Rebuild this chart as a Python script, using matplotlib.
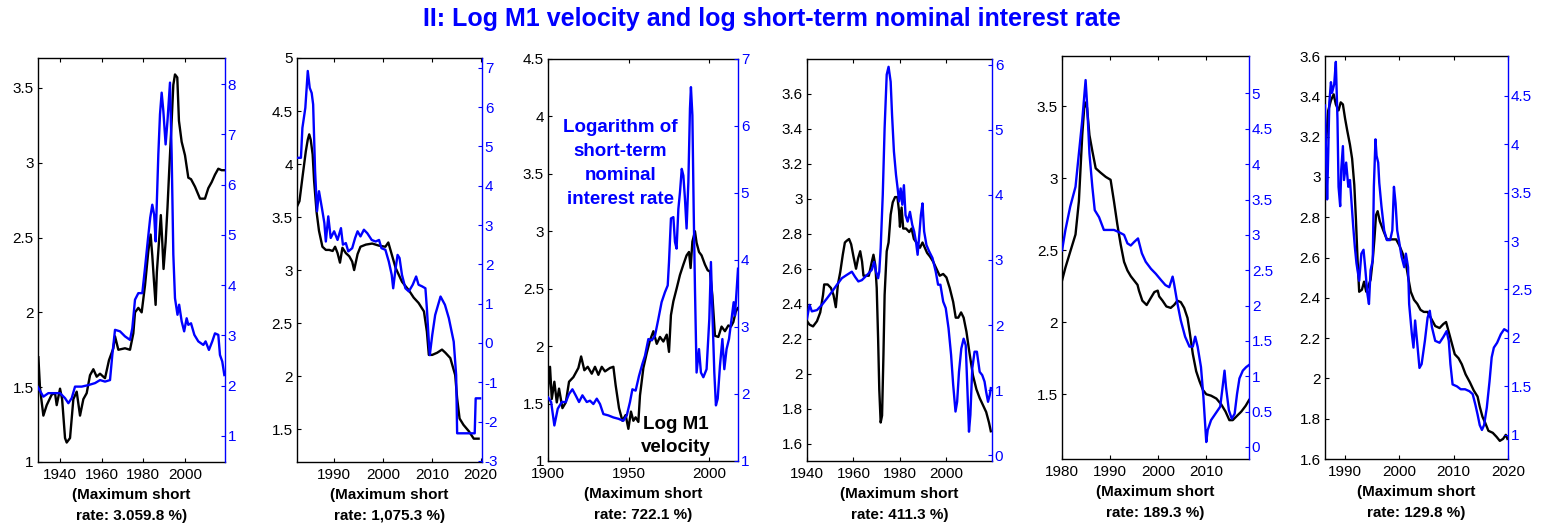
import matplotlib
matplotlib.use('Agg')
import matplotlib.pyplot as plt
from matplotlib.ticker import FuncFormatter

plt.rcParams['font.family'] = ['Liberation Sans', 'DejaVu Sans']
plt.rcParams['axes.unicode_minus'] = False

BLUE = '#0000ff'

# ---- panel 1 ----
p1_vel_year = [1929.6, 1930.4, 1932, 1933.6, 1936, 1937.6, 1938.4, 1940, 1941, 1942.4, 1943.2, 1944.8,
               1946.4, 1948, 1949.6, 1951.2, 1952.8, 1954.4, 1956, 1957.6, 1959.2, 1961.6, 1963.5,
               1965.6, 1966.4, 1968, 1971.2, 1973.6, 1975.2, 1976, 1977.6, 1979.2, 1980.8, 1982.4,
               1983.5, 1984.3, 1985.1, 1985.9, 1986.5, 1987.5, 1988.4, 1989.1, 1989.7, 1990.7,
               1991.6, 1992.4, 1993.6, 1994.4, 1995.2, 1996.3, 1997.1, 1998.4, 2000, 2001.6, 2002.9,
               2004.8, 2007.2, 2009.6, 2011.2, 2012.8, 2014.4, 2016, 2017.6, 2018.9]
p1_vel = [1.70, 1.49, 1.31, 1.38, 1.45, 1.46, 1.38, 1.49, 1.42, 1.16, 1.13, 1.16,
          1.42, 1.47, 1.31, 1.42, 1.46, 1.58, 1.62, 1.57, 1.59, 1.56, 1.68,
          1.76, 1.84, 1.75, 1.76, 1.75, 1.86, 2.00, 2.03, 2.00, 2.18, 2.41,
          2.52, 2.38, 2.21, 2.05, 2.27, 2.47, 2.65, 2.47, 2.29, 2.47,
          2.70, 2.94, 3.28, 3.52, 3.59, 3.57, 3.28, 3.14, 3.05, 2.90, 2.89,
          2.84, 2.76, 2.76, 2.83, 2.87, 2.92, 2.96, 2.95, 2.95]
p1_rate_year = [1929.2, 1932, 1934.4, 1936.8, 1940, 1942.4, 1944, 1945.6, 1947.2, 1950.4, 1953.6,
                1956.8, 1959.2, 1961.6, 1964, 1965.1, 1966.4, 1968.8, 1971.2, 1973.6, 1974.7,
                1976, 1977.6, 1979.5, 1980.8, 1982.1, 1983.3, 1984.3, 1985.2, 1985.9, 1986.5,
                1987.2, 1988, 1988.8, 1989.6, 1990.7, 1991.6, 1992.8, 1993.6, 1994.4, 1995.2,
                1996.4, 1997.2, 1998.4, 1999.6, 2000.8, 2001.6, 2002.9, 2004.5, 2006.4, 2008.8,
                2009.9, 2011.5, 2013.1, 2014.4, 2016, 2016.8, 2017.9, 2018.9]
p1_rate = [1.98, 1.78, 1.85, 1.85, 1.85, 1.75, 1.65, 1.75, 1.98, 1.98, 2.01,
           2.05, 2.11, 2.08, 2.11, 2.61, 3.11, 3.08, 2.98, 2.91, 3.14,
           3.71, 3.84, 3.84, 4.34, 4.87, 5.34, 5.60, 5.40, 4.87, 5.67,
           6.60, 7.40, 7.83, 7.47, 6.80, 7.27, 8.03, 6.60, 4.61, 3.74,
           3.41, 3.61, 3.28, 3.08, 3.34, 3.21, 3.24, 3.01, 2.88, 2.81,
           2.88, 2.71, 2.88, 3.04, 3.01, 2.61, 2.48, 2.21]

# ---- panel 2 ----
p2_vel_year = [1982.3, 1982.9, 1983.5, 1984.2, 1984.6, 1984.9, 1985.2, 1985.6, 1985.9, 1986.4, 1986.9,
               1987.6, 1988.3, 1989, 1989.7, 1990.2, 1990.7, 1991.2, 1991.7, 1992.4, 1993.1, 1993.7,
               1994.1, 1994.8, 1995.4, 1996.5, 1997.8, 1999.2, 2000.5, 2001.1, 2001.6, 2002.6,
               2003.9, 2005.3, 2006.3, 2007.3, 2008.4, 2009, 2009.4, 2010.1, 2011.1, 2012.1, 2012.8,
               2013.8, 2014.8, 2015.2, 2015.7, 2016.5, 2017.6, 2018.6, 2019.6]
p2_vel = [3.59, 3.65, 3.87, 4.12, 4.23, 4.28, 4.23, 4.09, 3.84, 3.55, 3.37,
          3.22, 3.19, 3.19, 3.18, 3.22, 3.16, 3.07, 3.21, 3.16, 3.13, 3.08,
          3.00, 3.15, 3.22, 3.24, 3.25, 3.23, 3.22, 3.26, 3.18, 3.02,
          2.89, 2.81, 2.74, 2.69, 2.61, 2.42, 2.20, 2.20, 2.22, 2.25, 2.22,
          2.17, 2.01, 1.79, 1.60, 1.54, 1.48, 1.41, 1.41]
p2_rate_year = [1982.3, 1983.2, 1983.5, 1984.1, 1984.6, 1985, 1985.4, 1985.7, 1986.1, 1986.5, 1986.9,
                1987.5, 1988, 1988.3, 1988.8, 1989.3, 1990, 1990.7, 1991.4, 1991.8, 1992.4, 1992.9,
                1993.7, 1994.3, 1994.8, 1995.4, 1996.1, 1996.8, 1997.7, 1998.5, 1999.2, 1999.7,
                2000.5, 2001.2, 2001.8, 2002.1, 2002.6, 2003, 2003.4, 2003.9, 2004.6, 2005.3,
                2006.1, 2006.8, 2007.3, 2008, 2008.7, 2009, 2009.4, 2009.6, 2010.1, 2010.7,
                2011.8, 2012.7, 2013.5, 2014.5, 2015, 2015.2, 2016.9, 2018.8, 2019, 2019.9]
p2_rate = [4.71, 4.71, 5.47, 5.98, 6.92, 6.49, 6.36, 6.07, 4.37, 3.35, 3.86,
           3.43, 3.05, 2.58, 3.22, 2.67, 2.84, 2.62, 2.92, 2.50, 2.54, 2.33,
           2.41, 2.67, 2.84, 2.71, 2.88, 2.79, 2.62, 2.58, 2.62, 2.41,
           2.37, 2.07, 1.73, 1.39, 1.90, 2.24, 2.16, 1.73, 1.39, 1.31,
           1.48, 1.69, 1.48, 1.44, 1.39, 0.88, 0.03, -0.31, 0.20, 0.71,
           1.18, 0.97, 0.63, 0.03, -0.82, -2.30, -2.30, -2.30, -1.41, -1.41]

# ---- panel 3 ----
p3_vel_year = [1900, 1901.2, 1902.3, 1903.9, 1905.4, 1906.8, 1908.9, 1911, 1913, 1915.7, 1918.8,
               1920.5, 1922.5, 1924.6, 1927.1, 1929.1, 1931.2, 1933.3, 1935.3, 1938.4, 1940.5,
               1941.9, 1944, 1946.1, 1948.1, 1949.8, 1951.4, 1952.9, 1954.3, 1956, 1957, 1959.1,
               1961.2, 1963.2, 1965.3, 1967.4, 1969.4, 1971.5, 1973.6, 1975, 1976.2, 1977.7,
               1979.7, 1981.8, 1983.9, 1985.9, 1987.4, 1988.4, 1989.5, 1991.1, 1992.1, 1993.6,
               1995.2, 1997.3, 1999, 2000.4, 2001.9, 2003.5, 2005.6, 2007.6, 2009.7, 2011.8,
               2013.4, 2014.9, 2016.4, 2017.6]
p3_vel = [1.63, 1.82, 1.54, 1.69, 1.51, 1.63, 1.46, 1.51, 1.69, 1.73, 1.81,
          1.91, 1.79, 1.82, 1.76, 1.82, 1.75, 1.82, 1.78, 1.81, 1.82,
          1.66, 1.46, 1.35, 1.40, 1.28, 1.43, 1.35, 1.38, 1.34, 1.57, 1.81,
          1.94, 2.05, 2.13, 2.02, 2.08, 2.04, 2.10, 1.95, 2.27, 2.39,
          2.50, 2.62, 2.71, 2.79, 2.82, 2.68, 2.91, 3.00, 2.90, 2.82,
          2.79, 2.71, 2.66, 2.65, 2.44, 2.09, 2.08, 2.17, 2.13, 2.18,
          2.17, 2.21, 2.30, 2.33]
p3_rate_year = [1900, 1901.9, 1903.9, 1906, 1908.5, 1911, 1913, 1915.1, 1917.1, 1919.2, 1921.3,
                1924, 1926, 1928.1, 1930.2, 1932.2, 1934.3, 1937.4, 1940.5, 1943.6, 1946.7,
                1948.8, 1950.8, 1952.3, 1954.3, 1956.4, 1958.5, 1960.1, 1962.2, 1964.3, 1966.3,
                1968.4, 1970.4, 1972.5, 1974.2, 1975, 1976.2, 1977.7, 1978.7, 1979.7, 1980.8,
                1981.8, 1982.9, 1983.9, 1984.9, 1985.9, 1987, 1988, 1988.6, 1989.5, 1990.3,
                1991.1, 1992.1, 1993.6, 1994.8, 1996.3, 1998.3, 2000, 2001, 2002.1, 2003.1,
                2004.1, 2005.2, 2006.6, 2008.1, 2009.3, 2010.7, 2012.2, 2013.8, 2015.1, 2015.9,
                2017, 2017.8]
p3_rate = [1.95, 1.88, 1.53, 1.78, 1.88, 1.88, 2.00, 2.07, 1.98, 1.88, 1.98,
           1.88, 1.90, 1.85, 1.93, 1.85, 1.70, 1.68, 1.65, 1.63, 1.60,
           1.68, 1.88, 2.07, 2.05, 2.27, 2.45, 2.57, 2.82, 2.80, 2.87,
           3.12, 3.37, 3.52, 3.62, 3.97, 4.62, 4.64, 4.27, 4.17, 4.76,
           5.01, 5.36, 5.26, 4.91, 4.47, 5.16, 6.26, 6.58, 6.16, 4.76,
           3.57, 2.32, 2.67, 2.32, 2.25, 2.37, 3.12, 3.97, 3.07, 2.32,
           1.83, 1.93, 2.42, 2.82, 2.37, 2.67, 2.82, 3.12, 3.37, 3.17,
           3.57, 3.87]

# ---- panel 4 ----
p4_vel_year = [1940, 1941.1, 1942.6, 1944.3, 1945.7, 1946.9, 1947.4, 1948.9, 1950.3, 1951.4, 1952.4,
               1953.3, 1954.3, 1955.4, 1956.3, 1957.1, 1958.1, 1959, 1960, 1961.1, 1962, 1962.9,
               1963.7, 1964.3, 1965.4, 1966.6, 1967.9, 1968.6, 1969.4, 1970, 1970.6, 1971.1,
               1971.7, 1972.3, 1972.9, 1973.4, 1974.3, 1975.1, 1976, 1976.9, 1977.9, 1978.9,
               1979.6, 1980, 1980.7, 1981.4, 1982.6, 1984, 1985, 1986, 1987.1, 1988.6, 1989.7,
               1990.7, 1991.7, 1992.9, 1994.3, 1995.7, 1997.1, 1998.6, 2000, 2001.4, 2002.9,
               2004, 2005.1, 2006.3, 2007.4, 2008.6, 2010, 2011.4, 2012.9, 2014.3, 2015.7,
               2017.1, 2018.3, 2019.1]
p4_vel = [2.30, 2.28, 2.27, 2.30, 2.35, 2.45, 2.51, 2.51, 2.49, 2.45, 2.38,
          2.51, 2.58, 2.68, 2.75, 2.76, 2.77, 2.74, 2.67, 2.60, 2.66, 2.70,
          2.64, 2.56, 2.56, 2.56, 2.64, 2.68, 2.62, 2.49, 2.20, 1.91,
          1.72, 1.76, 2.11, 2.45, 2.70, 2.75, 2.91, 2.98, 3.01, 3.01,
          2.93, 2.84, 2.95, 2.83, 2.83, 2.81, 2.83, 2.77, 2.75, 2.72, 2.75,
          2.72, 2.69, 2.67, 2.64, 2.60, 2.56, 2.57, 2.55, 2.49, 2.41,
          2.32, 2.32, 2.35, 2.32, 2.24, 2.11, 1.99, 1.91, 1.86, 1.82,
          1.78, 1.72, 1.67]
p4_rate_year = [1940, 1941.1, 1942.1, 1944.3, 1946.4, 1948.6, 1950.7, 1952.9, 1955, 1957.1, 1959.3,
                1960.7, 1962.1, 1963.6, 1965, 1966.4, 1967.9, 1968.9, 1969.7, 1970.6, 1971.1,
                1971.7, 1972.6, 1973.4, 1974.3, 1975.1, 1976, 1976.6, 1977.4, 1978.3, 1979,
                1979.6, 1980.3, 1981, 1981.7, 1982.4, 1983.3, 1984.3, 1985.3, 1986.1, 1986.9,
                1987.6, 1988.3, 1989, 1989.7, 1990.4, 1991.4, 1992.6, 1994, 1995.4, 1996.4,
                1997.4, 1998.6, 1999.7, 2000.9, 2002, 2002.9, 2003.9, 2004.6, 2005.4, 2006.4,
                2007.4, 2008.3, 2009, 2009.7, 2010.3, 2011.1, 2012.1, 2013.1, 2014.3, 2015.4,
                2016.4, 2017.1, 2017.9, 2018.6, 2019.1]
p4_rate = [2.10, 2.31, 2.21, 2.23, 2.31, 2.41, 2.51, 2.62, 2.72, 2.77, 2.82,
           2.74, 2.67, 2.69, 2.74, 2.79, 2.85, 2.97, 2.82, 2.72, 2.82,
           3.18, 4.00, 5.03, 5.85, 5.97, 5.74, 5.23, 4.67, 4.31, 4.10,
           3.90, 4.10, 3.85, 4.15, 3.69, 3.59, 3.74, 3.54, 3.44, 3.28,
           3.08, 3.38, 3.69, 3.87, 3.44, 3.23, 3.13, 3.03, 2.82, 2.62,
           2.62, 2.36, 2.26, 1.95, 1.54, 1.08, 0.67, 0.82, 1.28, 1.64,
           1.79, 1.69, 1.03, 0.36, 0.62, 1.33, 1.59, 1.59, 1.28, 1.23,
           1.13, 0.97, 0.82, 0.92, 1.03]

# ---- panel 5 ----
p5_vel_year = [1980, 1980.7, 1981.7, 1982.8, 1983.5, 1984.2, 1984.7, 1985.2, 1985.7, 1986.3, 1987,
               1988, 1989.1, 1990.1, 1990.8, 1991.5, 1992.2, 1992.9, 1993.6, 1994.3, 1995, 1995.7,
               1996, 1996.7, 1997.6, 1998.3, 1999.2, 1999.9, 2000.2, 2000.9, 2001.7, 2002.6,
               2003.3, 2004, 2004.7, 2005.4, 2006.1, 2006.6, 2007.2, 2007.9, 2008.6, 2009.3,
               2010, 2011, 2012.1, 2013.1, 2014, 2014.8, 2015.5, 2016.4, 2017.3, 2018.2, 2018.9]
p5_vel = [2.29, 2.38, 2.49, 2.61, 2.84, 3.30, 3.53, 3.49, 3.30, 3.19, 3.07,
          3.04, 3.01, 2.99, 2.84, 2.68, 2.54, 2.42, 2.36, 2.32, 2.29, 2.26,
          2.22, 2.15, 2.12, 2.16, 2.21, 2.22, 2.18, 2.15, 2.11, 2.10,
          2.12, 2.15, 2.14, 2.10, 2.03, 1.92, 1.78, 1.66, 1.59, 1.53,
          1.50, 1.49, 1.47, 1.43, 1.38, 1.32, 1.32, 1.35, 1.38, 1.42, 1.46]
p5_rate_year = [1980, 1980.7, 1981.7, 1982.8, 1983.5, 1984.2, 1984.9, 1985.2, 1985.7, 1986.3, 1986.8,
                1987.7, 1988.7, 1989.8, 1990.8, 1991.8, 1992.9, 1993.6, 1994.3, 1995, 1995.8,
                1996.6, 1997.4, 1998.5, 1999.5, 2000.6, 2001.5, 2002.3, 2003, 2003.3, 2004,
                2004.7, 2005.6, 2006.5, 2007.2, 2007.7, 2008.2, 2008.9, 2009.4, 2010, 2010.3,
                2011, 2011.9, 2012.9, 2013.4, 2013.8, 2014.1, 2014.7, 2015.3, 2015.9, 2016.4,
                2016.9, 2017.6, 2018.3, 2018.9]
p5_rate = [2.78, 3.07, 3.40, 3.68, 4.15, 4.62, 5.19, 4.86, 4.15, 3.68, 3.35,
           3.25, 3.07, 3.07, 3.07, 3.04, 3.00, 2.88, 2.85, 2.90, 2.95,
           2.74, 2.62, 2.52, 2.45, 2.36, 2.29, 2.26, 2.41, 2.31, 2.03,
           1.79, 1.56, 1.42, 1.42, 1.56, 1.42, 1.13, 0.71, 0.07, 0.24,
           0.38, 0.47, 0.57, 0.85, 1.08, 0.85, 0.52, 0.40, 0.47, 0.75,
           0.97, 1.08, 1.13, 1.16]

# ---- panel 6 ----
p6_vel_year = [1986.3, 1986.6, 1986.9, 1987.4, 1987.9, 1988.3, 1988.8, 1989.2, 1989.6, 1990, 1990.4,
               1990.9, 1991.3, 1991.7, 1992, 1992.3, 1992.6, 1993.1, 1993.5, 1993.9, 1994.3, 1994.7,
               1995.1, 1995.4, 1995.7, 1996, 1996.4, 1997.1, 1997.7, 1998.6, 1999.4, 2000, 2000.6,
               2001.2, 2001.7, 2002.1, 2002.7, 2003.3, 2003.9, 2004.5, 2005.2, 2005.8, 2006.6,
               2007.4, 2008.1, 2008.6, 2009, 2009.6, 2010.2, 2010.9, 2011.5, 2012.2, 2013, 2013.7,
               2014.4, 2014.8, 2015.3, 2015.8, 2016.4, 2017.2, 2017.9, 2018.5, 2019.1, 2019.6, 2019.9]
p6_vel = [3.09, 3.21, 3.33, 3.38, 3.41, 3.36, 3.33, 3.37, 3.36, 3.29, 3.23,
          3.16, 3.09, 2.96, 2.79, 2.59, 2.43, 2.44, 2.48, 2.43, 2.46, 2.49,
          2.59, 2.69, 2.81, 2.83, 2.78, 2.73, 2.69, 2.69, 2.69, 2.66, 2.62,
          2.57, 2.49, 2.43, 2.39, 2.37, 2.34, 2.33, 2.33, 2.30, 2.26,
          2.25, 2.27, 2.28, 2.24, 2.18, 2.12, 2.10, 2.07, 2.02, 1.98, 1.94,
          1.91, 1.86, 1.81, 1.78, 1.74, 1.73, 1.71, 1.69, 1.70, 1.72, 1.70]
p6_rate_year = [1986.3, 1986.5, 1986.7, 1986.9, 1987.1, 1987.4, 1987.6, 1988, 1988.3, 1988.6, 1988.8,
                1989.1, 1989.3, 1989.6, 1989.8, 1990.2, 1990.6, 1990.9, 1991.2, 1991.5, 1991.8,
                1992.1, 1992.6, 1993, 1993.4, 1993.7, 1994.1, 1994.4, 1994.7, 1995.1, 1995.3,
                1995.6, 1995.8, 1996.1, 1996.3, 1996.7, 1997.2, 1997.7, 1998.3, 1998.7, 1999,
                1999.3, 1999.6, 2000, 2000.4, 2000.9, 2001.2, 2001.6, 2001.8, 2002.3, 2002.6,
                2002.9, 2003.3, 2003.7, 2004.1, 2004.7, 2005.2, 2005.6, 2006, 2006.6, 2007.4,
                2008.1, 2008.7, 2009.1, 2009.4, 2009.8, 2010.6, 2011.3, 2012.1, 2012.9, 2013.5,
                2014, 2014.4, 2014.8, 2015.2, 2015.6, 2016.1, 2016.6, 2017, 2017.4, 2018, 2018.7,
                2019.3, 2019.9]
p6_rate = [4.40, 3.91, 3.43, 3.91, 4.43, 4.64, 4.53, 4.62, 4.85, 4.26, 3.56,
           3.36, 3.74, 3.98, 3.63, 3.81, 3.56, 3.63, 3.39, 3.15, 2.94,
           2.77, 2.59, 2.87, 2.91, 2.73, 2.46, 2.35, 2.70, 2.80, 3.56,
           4.05, 3.88, 3.81, 3.60, 3.36, 3.11, 3.01, 3.01, 3.11, 3.56,
           3.39, 3.11, 2.98, 2.84, 2.73, 2.87, 2.73, 2.35, 2.04, 1.90,
           2.18, 1.94, 1.69, 1.73, 1.97, 2.21, 2.28, 2.11, 1.97, 1.95,
           2.01, 2.07, 1.97, 1.73, 1.52, 1.50, 1.47, 1.47, 1.45, 1.42,
           1.31, 1.21, 1.10, 1.05, 1.10, 1.28, 1.55, 1.80, 1.90, 1.95, 2.04,
           2.09, 2.07]

captions = ['3.059.8', '1,075.3', '722.1', '411.3', '189.3', '129.8']

panels = [
    dict(rect=[0.0246, 0.1316, 0.1212, 0.7594], xlim=(1929.4, 2019.2), xt=[1940, 1960, 1980, 2000],
         ylim=(1, 3.7), yt=[1, 1.5, 2, 2.5, 3, 3.5], rlim=(0.48, 8.52), rt=[1, 2, 3, 4, 5, 6, 7, 8],
         v=(p1_vel_year, p1_vel), r=(p1_rate_year, p1_rate)),
    dict(rect=[0.1925, 0.1316, 0.1199, 0.7594], xlim=(1982.4, 2020.3), xt=[1990, 2000, 2010, 2020],
         ylim=(1.19, 5), yt=[1.5, 2, 2.5, 3, 3.5, 4, 4.5, 5], rlim=(-3.03, 7.25), rt=list(range(-3, 8)),
         v=(p2_vel_year, p2_vel), r=(p2_rate_year, p2_rate)),
    dict(rect=[0.3552, 0.1335, 0.1231, 0.7556], xlim=(1900, 2017.8), xt=[1900, 1950, 2000],
         ylim=(1, 4.5), yt=[1, 1.5, 2, 2.5, 3, 3.5, 4, 4.5], rlim=(1, 7), rt=[1, 2, 3, 4, 5, 6, 7],
         v=(p3_vel_year, p3_vel), r=(p3_rate_year, p3_rate)),
    dict(rect=[0.5230, 0.1335, 0.1199, 0.7556], xlim=(1940, 2019.6), xt=[1940, 1960, 1980, 2000],
         ylim=(1.5, 3.8), yt=[1.6, 1.8, 2, 2.2, 2.4, 2.6, 2.8, 3, 3.2, 3.4, 3.6],
         rlim=(-0.09, 6.09), rt=[0, 1, 2, 3, 4, 5, 6],
         v=(p4_vel_year, p4_vel), r=(p4_rate_year, p4_rate)),
    dict(rect=[0.6883, 0.1372, 0.1212, 0.7575], xlim=(1980, 2018.9), xt=[1980, 1990, 2000, 2010],
         ylim=(1.05, 3.85), yt=[1.5, 2, 2.5, 3, 3.5], rlim=(-0.17, 5.53),
         rt=[0, 0.5, 1, 1.5, 2, 2.5, 3, 3.5, 4, 4.5, 5],
         v=(p5_vel_year, p5_vel), r=(p5_rate_year, p5_rate)),
    dict(rect=[0.8587, 0.1372, 0.1186, 0.7575], xlim=(1986.3, 2020), xt=[1990, 2000, 2010, 2020],
         ylim=(1.6, 3.6), yt=[1.6, 1.8, 2, 2.2, 2.4, 2.6, 2.8, 3, 3.2, 3.4, 3.6],
         rlim=(0.75, 4.91), rt=[1, 1.5, 2, 2.5, 3, 3.5, 4, 4.5],
         v=(p6_vel_year, p6_vel), r=(p6_rate_year, p6_rate)),
]

fmt = FuncFormatter(lambda val, pos: '%g' % val)

fig = plt.figure(figsize=(15.43, 5.32), dpi=100)

for i, p in enumerate(panels):
    ax = fig.add_axes(p['rect'])
    ax2 = ax.twinx()

    ax.plot(p['v'][0], p['v'][1], color='black', lw=1.7)
    ax2.plot(p['r'][0], p['r'][1], color=BLUE, lw=1.7)

    ax.set_xlim(*p['xlim'])
    ax.set_ylim(*p['ylim'])
    ax2.set_ylim(*p['rlim'])
    ax.set_xticks(p['xt'])
    ax.set_yticks(p['yt'])
    ax2.set_yticks(p['rt'])
    ax.yaxis.set_major_formatter(fmt)
    ax2.yaxis.set_major_formatter(fmt)

    ax.tick_params(direction='in', length=3, width=0.8, labelsize=11, top=True, right=False,
                   colors='black', pad=3)
    ax.tick_params(axis='x', pad=4)
    ax2.tick_params(axis='y', direction='in', length=3, width=0.8, labelsize=11,
                    colors=BLUE, pad=2)
    for s in ['left', 'bottom', 'top']:
        ax.spines[s].set_linewidth(1.0)
    ax.spines['right'].set_visible(False)
    ax2.spines['right'].set_color(BLUE)
    ax2.spines['right'].set_linewidth(1.0)
    for s in ['left', 'bottom', 'top']:
        ax2.spines[s].set_visible(False)

    ax.text(0.5, -0.065, '(Maximum short\nrate: %s %%)' % captions[i], transform=ax.transAxes,
            ha='center', va='top', fontsize=11, fontweight='bold', linespacing=1.65)

    if i == 2:
        ax.text(0.38, 0.74, 'Logarithm of\nshort-term\nnominal\ninterest rate',
                transform=ax.transAxes, ha='center', va='center', color=BLUE,
                fontsize=13.5, fontweight='bold', linespacing=1.55)
        ax.text(0.675, 0.062, 'Log M1\nvelocity', transform=ax.transAxes, ha='center',
                va='center', color='black', fontsize=13.5, fontweight='bold', linespacing=1.5)

fig.text(0.5, 1 - 19 / 532, 'II: Log M1 velocity and log short-term nominal interest rate',
         ha='center', va='center', color=BLUE, fontsize=18, fontweight='bold')

fig.savefig('out.png', dpi=100)
